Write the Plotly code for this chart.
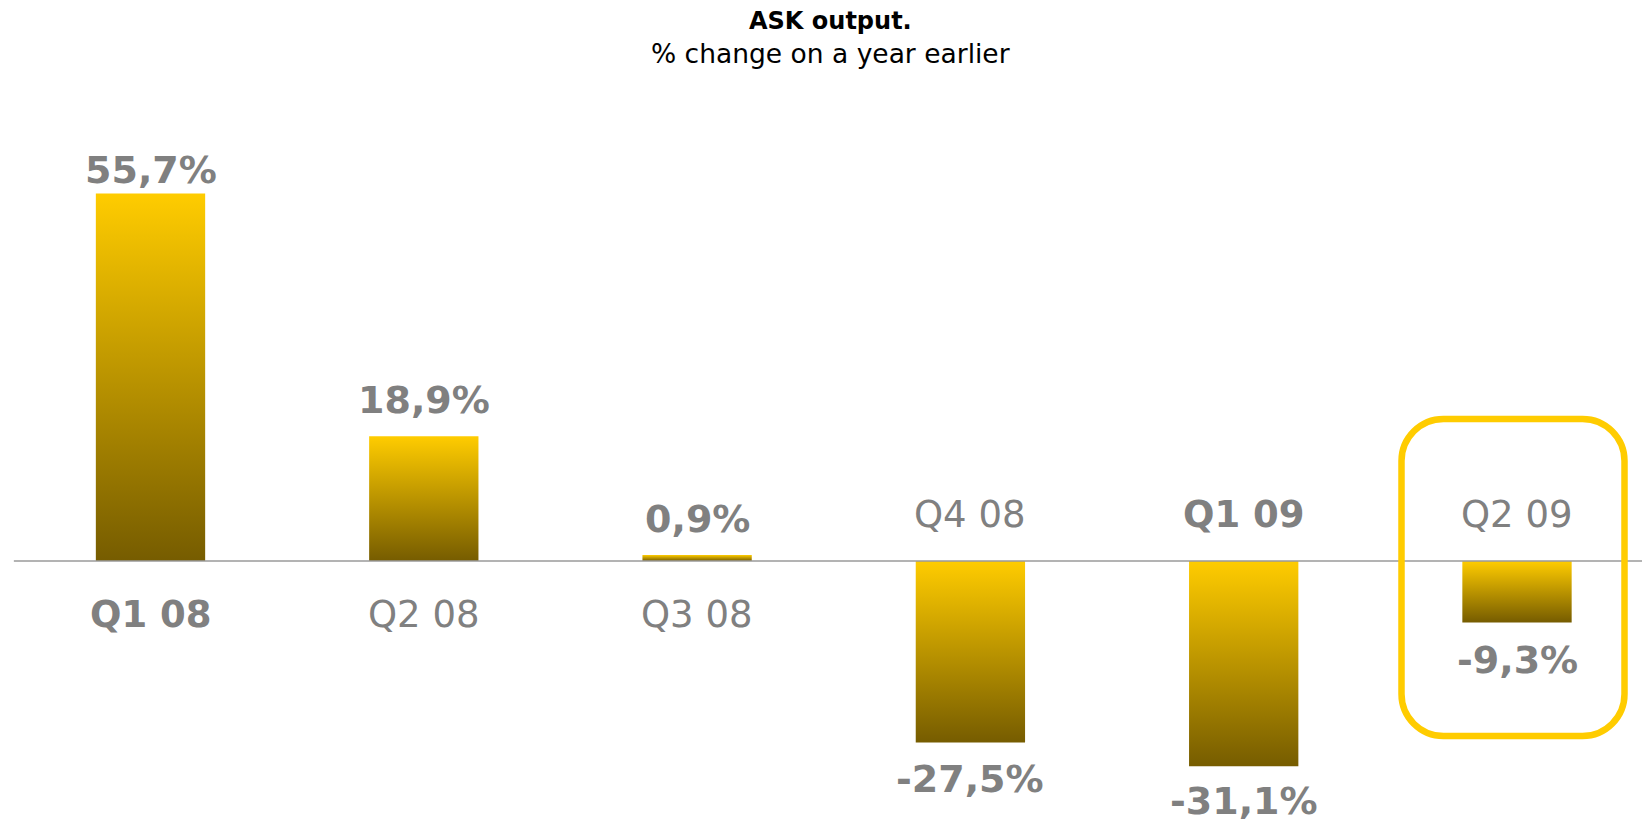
import plotly.graph_objects as go

# Quarterly ASK output, % change on a year earlier
quarters = ["Q1 08", "Q2 08", "Q3 08", "Q4 08", "Q1 09", "Q2 09"]
change_pct = [55.7, 18.9, 0.9, -27.5, -31.1, -9.3]
highlight_quarter = "Q2 09"

W, H = 1642, 821
YELLOW = "#FFCC00"
DARK = "#765C00"
GREY = "#808080"
FONT = "DejaVu Sans"

# Axis geometry (pixels): category spacing, zero line position, px per %-point
CAT_PX = 273.3
FIRST_CENTER_PX = 150.5
ZERO_PX = 561.0
PX_PER_PCT = 6.6
BAR_W = 0.4

x_lo = -FIRST_CENTER_PX / CAT_PX
x_hi = x_lo + W / CAT_PX
y_hi = ZERO_PX / PX_PER_PCT
y_lo = -(H - ZERO_PX) / PX_PER_PCT


def px_x(px):
    return x_lo + px / CAT_PX


def px_y(py):
    return y_hi - py / PX_PER_PCT


fig = go.Figure()

# Bars drawn as filled polygons so they can carry a vertical gradient
for i, (q, v) in enumerate(zip(quarters, change_pct)):
    xl, xr = i - BAR_W / 2, i + BAR_W / 2
    fig.add_trace(go.Scatter(
        x=[xl, xr, xr, xl, xl],
        y=[0, 0, v, v, 0],
        mode="lines",
        fill="toself",
        fillgradient=dict(type="vertical",
                          colorscale=[[0, DARK], [1, YELLOW]]),
        line=dict(width=0, color="rgba(0,0,0,0)"),
        hoverinfo="skip",
        showlegend=False,
        name=q,
    ))

# Zero line
fig.add_shape(type="line", xref="x", yref="y", x0=-0.5, x1=x_hi, y0=0, y1=0,
              line=dict(color="#9A9A9A", width=1.5), layer="above")

annotations = []
label_offset = [23, 36, 36, 36, 35, 38]
for i, (q, v) in enumerate(zip(quarters, change_pct)):
    txt = f"{v:.1f}".replace(".", ",") + "%"
    sign = 1 if v >= 0 else -1
    annotations.append(dict(
        x=i, y=v, xref="x", yref="y", text=txt, showarrow=False,
        yanchor="middle", yshift=sign * label_offset[i],
        font=dict(family=FONT, size=38, color=GREY, weight="bold"),
    ))
    bold = q.startswith("Q1")
    annotations.append(dict(
        x=i, y=0, xref="x", yref="y", text=q, showarrow=False,
        yanchor="middle", yshift=(-53 if v >= 0 else 47),
        font=dict(family=FONT, size=37, color=GREY,
                  weight="bold" if bold else "normal"),
    ))

# Title lines
annotations.append(dict(
    x=830 / W, y=1 - 21 / H, xref="paper", yref="paper", text="ASK output.",
    showarrow=False, yanchor="middle",
    font=dict(family=FONT, size=24, color="#000000", weight="bold")))
annotations.append(dict(
    x=830 / W, y=1 - 53 / H, xref="paper", yref="paper",
    text="% change on a year earlier", showarrow=False, yanchor="middle",
    font=dict(family=FONT, size=26.5, color="#000000")))

# Rounded highlight frame around the latest quarter
hi = quarters.index(highlight_quarter)
cx = FIRST_CENTER_PX + hi * CAT_PX - 4
bx0, bx1 = cx - 111.5, cx + 111.5
by0, by1 = 419.0, 736.0
r = 42.0
k = 0.5523 * r


def pt(px, py):
    return f"{px_x(px):.5f},{px_y(py):.5f}"


path = (
    f"M {pt(bx0 + r, by0)} L {pt(bx1 - r, by0)} "
    f"C {pt(bx1 - r + k, by0)} {pt(bx1, by0 + r - k)} {pt(bx1, by0 + r)} "
    f"L {pt(bx1, by1 - r)} "
    f"C {pt(bx1, by1 - r + k)} {pt(bx1 - r + k, by1)} {pt(bx1 - r, by1)} "
    f"L {pt(bx0 + r, by1)} "
    f"C {pt(bx0 + r - k, by1)} {pt(bx0, by1 - r + k)} {pt(bx0, by1 - r)} "
    f"L {pt(bx0, by0 + r)} "
    f"C {pt(bx0, by0 + r - k)} {pt(bx0 + r - k, by0)} {pt(bx0 + r, by0)} Z"
)
fig.add_shape(type="path", xref="x", yref="y", path=path,
              line=dict(color=YELLOW, width=6.5), fillcolor="rgba(0,0,0,0)")

fig.update_layout(
    width=W, height=H,
    margin=dict(l=0, r=0, t=0, b=0),
    paper_bgcolor="white", plot_bgcolor="white",
    xaxis=dict(range=[x_lo, x_hi], visible=False, fixedrange=True),
    yaxis=dict(range=[y_lo, y_hi], visible=False, fixedrange=True),
    annotations=annotations,
    showlegend=False,
)

fig.write_html("out.html")
